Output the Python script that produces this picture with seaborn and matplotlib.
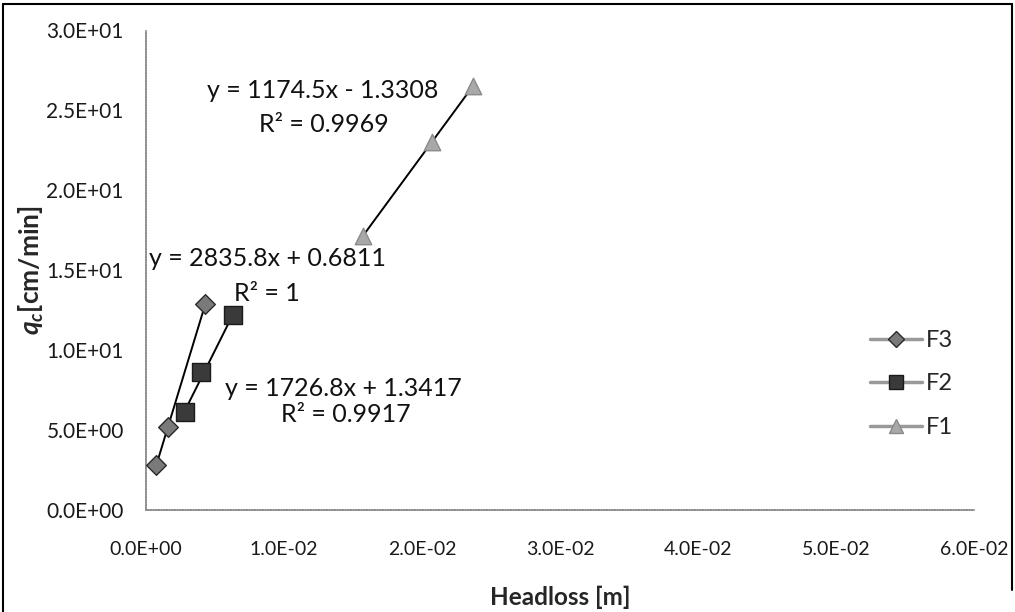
import numpy as np
import pandas as pd
import matplotlib
matplotlib.use("Agg")
import matplotlib.pyplot as plt
from matplotlib.lines import Line2D
import seaborn as sns

# Measured points per filter
f3_x = [0.00075, 0.0016, 0.0043]
f3_y = [2.8, 5.2, 12.9]
f2_x = [0.0028, 0.0040, 0.0063]
f2_y = [6.1, 8.6, 12.2]
f1_x = [0.0157, 0.0207, 0.0237]
f1_y = [17.1, 23.0, 26.5]

series_names = ["F3", "F2", "F1"]

# Linear trendline coefficients (slope, intercept) and R^2
slopes = [2835.8, 1726.8, 1174.5]
intercepts = [0.6811, 1.3417, -1.3308]
r2_labels = ["1", "0.9917", "0.9969"]

x_ticks = [0.0, 0.01, 0.02, 0.03, 0.04, 0.05, 0.06]
y_ticks = [0, 5, 10, 15, 20, 25, 30]

sns.set_theme(style="white")
plt.rcParams["font.family"] = ["Lato", "DejaVu Sans"]
plt.rcParams["mathtext.fontset"] = "custom"
plt.rcParams["mathtext.it"] = "Lato:italic:bold"
plt.rcParams["mathtext.rm"] = "Lato:bold"

df = pd.DataFrame({
    "Headloss": f3_x + f2_x + f1_x,
    "qc": f3_y + f2_y + f1_y,
    "Filter": ["F3"] * 3 + ["F2"] * 3 + ["F1"] * 3,
})

styles = {
    "F3": dict(marker="D", face="#7a7a7a", edge="#2a2a2a", size=100),
    "F2": dict(marker="s", face="#3a3a3a", edge="#1a1a1a", size=150),
    "F1": dict(marker="^", face="#a8a8a8", edge="#8a8a8a", size=140),
}

fig = plt.figure(figsize=(10.15, 6.12), dpi=100)
ax = fig.add_axes([146 / 1015, 1 - 510 / 612, (974 - 146) / 1015, (510 - 30) / 612])

# Trendlines drawn across each series' data range
xs_all = [f3_x, f2_x, f1_x]
for name, xs, m, b in zip(series_names, xs_all, slopes, intercepts):
    xl = np.array([min(xs), max(xs)])
    sns.lineplot(x=xl, y=m * xl + b, ax=ax, color="black", lw=1.4, zorder=2,
                 legend=False)

for name in series_names:
    st = styles[name]
    sub = df[df["Filter"] == name]
    sns.scatterplot(data=sub, x="Headloss", y="qc", ax=ax, marker=st["marker"],
                    s=st["size"], color=st["face"], edgecolor=st["edge"],
                    linewidth=1.0, zorder=3, legend=False)

ax.set_xlim(0, 0.06)
ax.set_ylim(0, 30)
ax.set_xticks(x_ticks)
ax.set_yticks(y_ticks)
ax.set_xticklabels([f"{v:.1E}" for v in x_ticks], fontsize=14, color="#1a1a1a")
ax.set_yticklabels([f"{float(v):.1E}" for v in y_ticks], fontsize=15, color="#1a1a1a")
ax.tick_params(axis="x", pad=22, length=0)
ax.tick_params(axis="y", pad=16, length=0)

for side in ["top", "right"]:
    ax.spines[side].set_visible(False)
for side in ["left", "bottom"]:
    ax.spines[side].set_color("#8c8c8c")
    ax.spines[side].set_linewidth(1.2)
    ax.spines[side].set_linestyle((0, (1, 0.6)))

ax.set_xlabel("Headloss [m]", fontsize=17.5, fontweight="bold", labelpad=20)
ax.set_ylabel(r"$q_c$[cm/min]", fontsize=19, fontweight="bold", labelpad=0)

# Trendline equations
eq_pos = [(267, 258, 267, 293), (343, 388, 346, 415), (323, 90, 324, 125)]
for m, b, r2, (ex, ey, rx, ry) in zip(slopes, intercepts, r2_labels, eq_pos):
    sign = "+" if b >= 0 else "-"
    eq = f"y = {m}x {sign} {abs(b)}"
    fig.text(ex / 1015, 1 - ey / 612, eq, ha="center", va="center", fontsize=18,
             color="#111111")
    fig.text(rx / 1015, 1 - ry / 612, f"R² = {r2}", ha="center", va="center",
             fontsize=18, color="#111111")

handles = []
for name in series_names:
    st = styles[name]
    handles.append(Line2D([0], [0], color="#9a9a9a", lw=2.5, marker=st["marker"],
                          markersize=np.sqrt(st["size"]) * 0.85,
                          markerfacecolor=st["face"], markeredgecolor=st["edge"]))
leg = ax.legend(handles, series_names, loc="center left",
                bbox_to_anchor=((870 - 146) / 828, (510 - 384) / 480),
                frameon=False, fontsize=17, handlelength=2.2, handletextpad=0.15,
                labelspacing=0.95, borderaxespad=0, borderpad=0)

# Chart frame
fig.add_artist(Line2D([3 / 1015, 3 / 1015], [0, 1 - 4 / 612], color="black", lw=1.5))
fig.add_artist(Line2D([3 / 1015, 1012 / 1015], [1 - 4 / 612, 1 - 4 / 612], color="black", lw=1.5))
fig.add_artist(Line2D([1012 / 1015, 1012 / 1015], [1 - 590 / 612, 1 - 4 / 612], color="black", lw=1.5))

fig.savefig("out.png", dpi=100)
